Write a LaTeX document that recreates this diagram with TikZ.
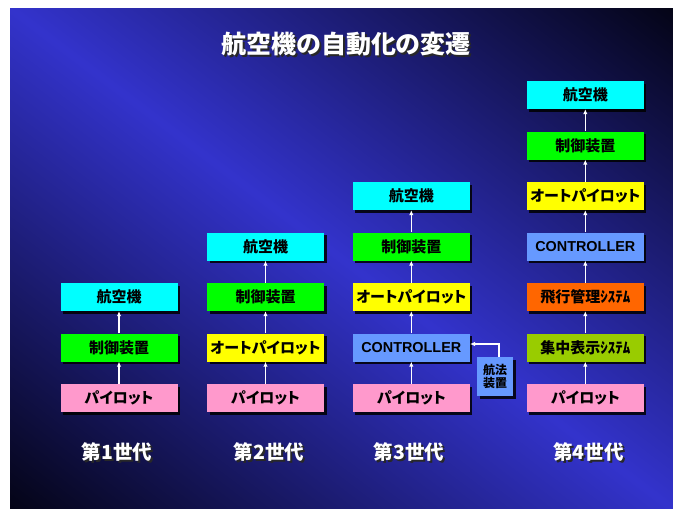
\documentclass[tikz,border=0pt]{standalone}
\usepackage{fontspec}
\newfontfamily\jp{Noto Sans CJK JP}[RawFeature=+palt]
\newfontfamily\lat{Liberation Sans}
\usetikzlibrary{arrows.meta,shadows}
\definecolor{bgblue}{RGB}{51,51,204}
\definecolor{bgdark}{RGB}{4,4,22}
\definecolor{cAir}{RGB}{0,255,255}
\definecolor{cCtl}{RGB}{0,255,0}
\definecolor{cAuto}{RGB}{255,255,0}
\definecolor{cPil}{RGB}{255,153,204}
\definecolor{cCon}{RGB}{102,153,255}
\definecolor{cFms}{RGB}{255,102,0}
\definecolor{cDisp}{RGB}{153,204,0}
\definecolor{shadowgray}{RGB}{40,40,40}
\newcommand\shadowtext[1]{\leavevmode\rlap{\kern2pt\raisebox{-2pt}{\textcolor{shadowgray}{#1}}}#1}
\tikzset{
  box/.style={minimum width=117pt, minimum height=28pt, inner sep=0pt, text=black,
    font=\jp\bfseries\fontsize{15}{16}\selectfont,
    drop shadow={shadow xshift=2.5pt,shadow yshift=-2.5pt,fill=black,opacity=0.85}},
  conbox/.style={box, fill=cCon, font=\lat\bfseries\fontsize{14.4}{16}\selectfont},
  arr/.style={draw=white, line width=1.4pt, -{Latex[length=5pt,width=4.5pt]}},
  gen/.style={font=\jp\bfseries\fontsize{19.5}{21}\selectfont, text=white},
  titlestyle/.style={font=\jp\bfseries\fontsize{25}{28}\selectfont, text=white},
}
\begin{document}
\begin{tikzpicture}[x=1pt,y=-1pt]
\useasboundingbox (0,0) rectangle (673,509);
\fill[white] (0,0) rectangle (673,509);
\begin{scope}
  \clip (10,8) rectangle (673,509);
  \shade[shading=axis, top color=bgdark, bottom color=bgdark, middle color=bgblue,
         shading angle=-37.07]
      (-58.5,-141.5) rectangle (741.5,658.5);
\end{scope}

% title
\node[titlestyle] (title) at (346,45) {\shadowtext{航空機の自動化の変遷}};

% column 1
\node[box, fill=cPil] (p1) at (119,398) {パイロット};
\node[box, fill=cCtl] (s1) at (119,347.5) {制御装置};
\node[box, fill=cAir] (a1) at (119,297) {航空機};
% column 2
\node[box, fill=cPil] (p2) at (265.5,398) {パイロット};
\node[box, fill=cAuto] (ap2) at (265.5,347.5) {オートパイロット};
\node[box, fill=cCtl] (s2) at (265.5,297) {制御装置};
\node[box, fill=cAir] (a2) at (265.5,246.5) {航空機};
% column 3
\node[box, fill=cPil] (p3) at (411.3,398) {パイロット};
\node[conbox] (c3) at (411.3,347.5) {CONTROLLER};
\node[box, fill=cAuto] (ap3) at (411.3,297) {オートパイロット};
\node[box, fill=cCtl] (s3) at (411.3,246.5) {制御装置};
\node[box, fill=cAir] (a3) at (411.3,196) {航空機};
\node[box, fill=cCon, minimum width=36pt, minimum height=39pt, align=center,
      font=\jp\bfseries\fontsize{12}{13}\selectfont] (nav) at (495,376.5) {航法\\装置};
% column 4
\node[box, fill=cPil] (p4) at (585.3,398) {パイロット};
\node[box, fill=cDisp] (d4) at (585.3,347.5) {集中表示ｼｽﾃﾑ};
\node[box, fill=cFms] (f4) at (585.3,297) {飛行管理ｼｽﾃﾑ};
\node[conbox] (c4) at (585.3,246.5) {CONTROLLER};
\node[box, fill=cAuto] (ap4) at (585.3,196) {オートパイロット};
\node[box, fill=cCtl] (s4) at (585.3,145.5) {制御装置};
\node[box, fill=cAir] (a4) at (585.3,95) {航空機};

% arrows
\draw[arr] (p1) -- (s1);
\draw[arr] (s1) -- (a1);
\draw[arr] (p2) -- (ap2);
\draw[arr] (ap2) -- (s2);
\draw[arr] (s2) -- (a2);
\draw[arr] (p3) -- (c3);
\draw[arr] (c3) -- (ap3);
\draw[arr] (ap3) -- (s3);
\draw[arr] (s3) -- (a3);
\draw[arr] (p4) -- (d4);
\draw[arr] (d4) -- (f4);
\draw[arr] (f4) -- (c4);
\draw[arr] (c4) -- (ap4);
\draw[arr] (ap4) -- (s4);
\draw[arr] (s4) -- (a4);
\coordinate (navtop) at ([xshift=4pt]nav.north);
\coordinate (navin) at ([yshift=3.5pt]c3.east);
\draw[arr] (navtop) |- (navin);

% generation labels
\node[gen] (g1) at (117,453) {\shadowtext{第1世代}};
\node[gen] (g2) at (269,453) {\shadowtext{第2世代}};
\node[gen] (g3) at (409,453) {\shadowtext{第3世代}};
\node[gen] (g4) at (588.5,453) {\shadowtext{第4世代}};
\end{tikzpicture}
\end{document}
